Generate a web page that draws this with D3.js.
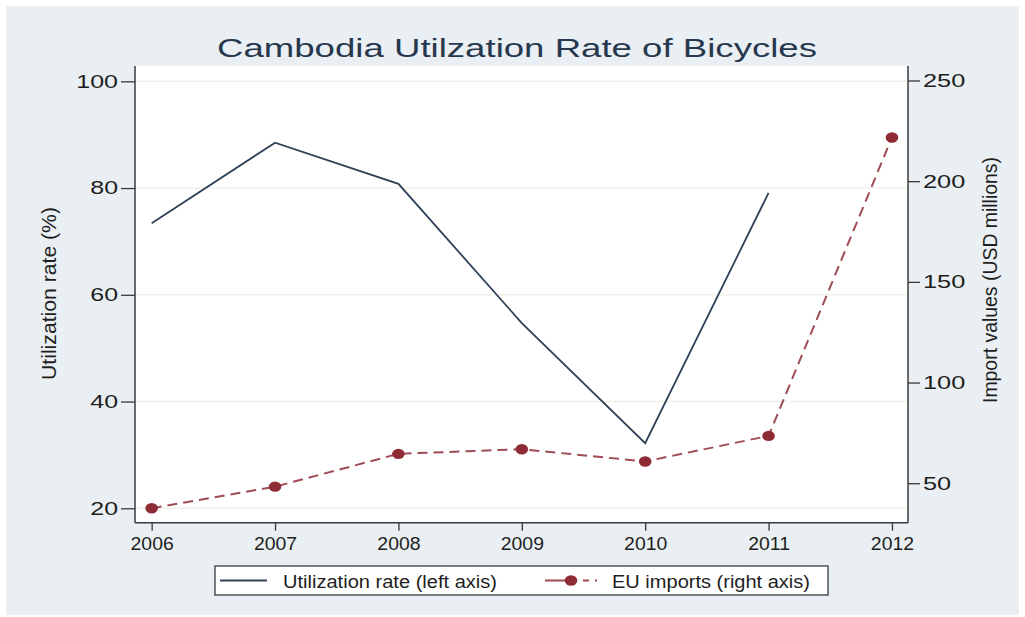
<!DOCTYPE html>
<html>
<head>
<meta charset="utf-8">
<script src="https://cdn.jsdelivr.net/npm/d3@7/dist/d3.min.js"></script>
<style>
  html, body { margin: 0; padding: 0; background: #ffffff; }
  svg { display: block; font-family: "Liberation Sans", Arial, sans-serif; }
</style>
</head>
<body>
<svg id="chart" width="1025" height="617"></svg>
<script>
// ---- data ----
const years = [2006, 2007, 2008, 2009, 2010, 2011, 2012];
const utilization = [73.4, 88.5, 80.8, 54.7, 32.2, 79.1, null];
const euImports = [37.6, 48.3, 64.6, 66.9, 60.8, 73.5, 221.7];
const leftTicks = [20, 40, 60, 80, 100];
const rightTicks = [50, 100, 150, 200, 250];
const xTicks = [2006, 2007, 2008, 2009, 2010, 2011, 2012];
const titleText = "Cambodia Utilzation Rate of Bicycles";
const leftTitle = "Utilization rate (%)";
const rightTitle = "Import values (USD millions)";
const legendLabels = ["Utilization rate (left axis)", "EU imports (right axis)"];

// ---- layout ----
const W = 1025, H = 617;
const plot = { left: 135, right: 908, top: 66, bottom: 522.7 };
const navy = "#2f4156";
const maroon = "#8e2c36";
const axisColor = "#3a3a3a";
const textColor = "#1e1e1e";

const svg = d3.select("#chart");

// backgrounds
svg.append("rect").attr("x", 6).attr("y", 6).attr("width", 1013).attr("height", 609)
  .attr("fill", "#e9eff2");
svg.append("rect").attr("x", plot.left).attr("y", plot.top)
  .attr("width", plot.right - plot.left).attr("height", plot.bottom - plot.top)
  .attr("fill", "#ffffff");

// scales
const x = d3.scaleLinear().domain([2005.865, 2012.13]).range([plot.left, plot.right]);
const yL = d3.scaleLinear().domain([17.3, 102.87]).range([plot.bottom, plot.top]);
const yR = d3.scaleLinear().domain([30.4, 257.2]).range([plot.bottom, plot.top]);

function stretch(sel, k) {
  sel.each(function () {
    const len = this.getComputedTextLength();
    d3.select(this).attr("textLength", len * k).attr("lengthAdjust", "spacingAndGlyphs");
  });
}

// gridlines
svg.append("g").selectAll("line").data(leftTicks).join("line")
  .attr("x1", plot.left + 1).attr("x2", plot.right)
  .attr("y1", d => yL(d)).attr("y2", d => yL(d))
  .attr("stroke", "#f1f1ec").attr("stroke-width", 1.6);

// axes
const gL = svg.append("g").attr("transform", `translate(${plot.left},0)`)
  .call(d3.axisLeft(yL).tickValues(leftTicks).tickSize(14).tickPadding(3).tickSizeOuter(0));
const gR = svg.append("g").attr("transform", `translate(${plot.right},0)`)
  .call(d3.axisRight(yR).tickValues(rightTicks).tickSize(12).tickPadding(3).tickSizeOuter(0));
const gB = svg.append("g").attr("transform", `translate(0,${plot.bottom})`)
  .call(d3.axisBottom(x).tickValues(xTicks).tickFormat(d3.format("d")).tickSize(8).tickPadding(6).tickSizeOuter(0));

[gL, gR, gB].forEach(g => {
  g.select(".domain").attr("stroke", axisColor).attr("stroke-width", 1.5);
  g.selectAll(".tick line").attr("stroke", axisColor).attr("stroke-width", 1.3);
  g.selectAll(".tick text").attr("fill", textColor)
    .style("font-family", '"Liberation Sans", Arial, sans-serif').style("font-size", "18.5px");
});
// extend domains to plot edges
gL.select(".domain").attr("d", `M0,${plot.top}V${plot.bottom}`);
gR.select(".domain").attr("d", `M0,${plot.top}V${plot.bottom}`);
gB.select(".domain").attr("d", `M${plot.left},0H${plot.right}`);

stretch(gL.selectAll(".tick text"), 1.35);
stretch(gR.selectAll(".tick text"), 1.37);
stretch(gB.selectAll(".tick text"), 1.05);

// series
const util = years.map((y, i) => ({ y, v: utilization[i] })).filter(d => d.v != null);
const imp = years.map((y, i) => ({ y, v: euImports[i] }));

svg.append("path").datum(util)
  .attr("d", d3.line().x(d => x(d.y)).y(d => yL(d.v)))
  .attr("fill", "none").attr("stroke", navy).attr("stroke-width", 1.8)
  .attr("stroke-linejoin", "miter");

svg.append("path").datum(imp)
  .attr("d", d3.line().x(d => x(d.y)).y(d => yR(d.v)))
  .attr("fill", "none").attr("stroke", maroon).attr("stroke-width", 2)
  .attr("stroke-dasharray", "10,6").attr("opacity", 0.85);

svg.append("g").selectAll("ellipse").data(imp).join("ellipse")
  .attr("cx", d => x(d.y)).attr("cy", d => yR(d.v))
  .attr("rx", 6.3).attr("ry", 5.2).attr("fill", maroon);

// title
svg.append("text").attr("x", 517).attr("y", 57).attr("text-anchor", "middle")
  .attr("fill", "#27384e").style("font-size", "26px")
  .attr("textLength", 600).attr("lengthAdjust", "spacingAndGlyphs")
  .text(titleText);

// axis titles
svg.append("text").attr("transform", "translate(56,293.5) rotate(-90)")
  .attr("text-anchor", "middle").attr("fill", textColor).style("font-size", "21px")
  .attr("textLength", 173).attr("lengthAdjust", "spacingAndGlyphs")
  .text(leftTitle);
svg.append("text").attr("transform", "translate(997,280) rotate(-90)")
  .attr("text-anchor", "middle").attr("fill", textColor).style("font-size", "21px")
  .attr("textLength", 246).attr("lengthAdjust", "spacingAndGlyphs")
  .text(rightTitle);

// legend
const lg = svg.append("g");
lg.append("rect").attr("x", 215).attr("y", 566).attr("width", 613).attr("height", 29)
  .attr("fill", "#ffffff").attr("stroke", axisColor).attr("stroke-width", 1.3);
lg.append("line").attr("x1", 220).attr("x2", 267).attr("y1", 580.5).attr("y2", 580.5)
  .attr("stroke", navy).attr("stroke-width", 1.8);
lg.append("text").attr("x", 283).attr("y", 587.5).attr("fill", textColor)
  .style("font-size", "17.5px").attr("textLength", 214).attr("lengthAdjust", "spacingAndGlyphs")
  .text(legendLabels[0]);
lg.append("line").attr("x1", 545).attr("x2", 597).attr("y1", 580.5).attr("y2", 580.5)
  .attr("stroke", maroon).attr("stroke-width", 2).attr("stroke-dasharray", "20,6,6,6,6,6")
  .attr("opacity", 0.85);
lg.append("ellipse").attr("cx", 571).attr("cy", 580.5).attr("rx", 6.3).attr("ry", 5.2)
  .attr("fill", maroon);
lg.append("text").attr("x", 612).attr("y", 587.5).attr("fill", textColor)
  .style("font-size", "17.5px").attr("textLength", 198).attr("lengthAdjust", "spacingAndGlyphs")
  .text(legendLabels[1]);
</script>
</body>
</html>
